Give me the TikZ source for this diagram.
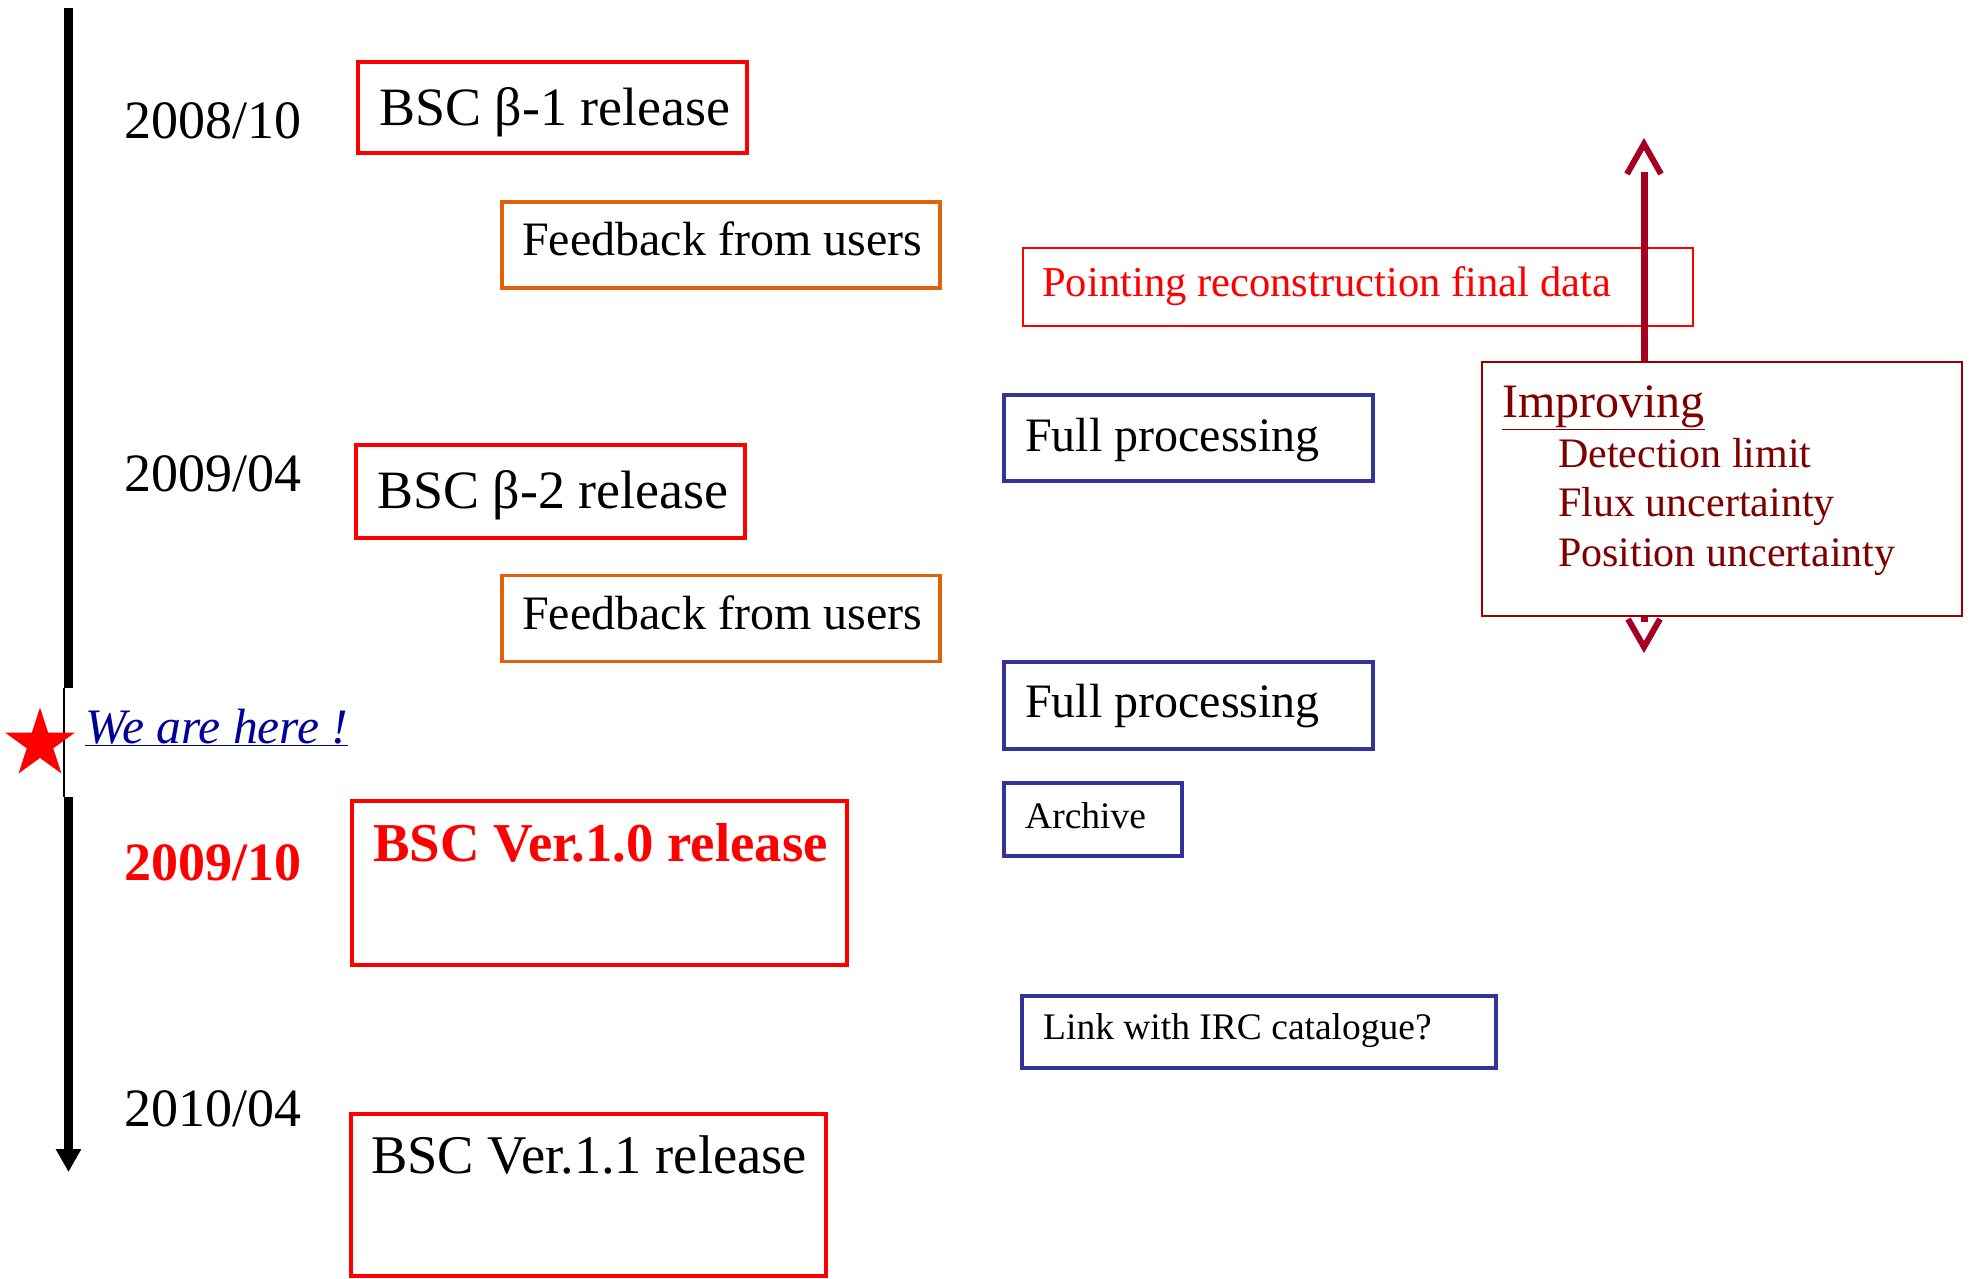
\documentclass[tikz,border=0pt]{standalone}
\usepackage{fontspec}
\setmainfont{Liberation Serif}
\usetikzlibrary{arrows.meta,shapes.geometric}
\definecolor{bscred}{HTML}{FF0000}
\definecolor{fborange}{HTML}{E0620D}
\definecolor{procblue}{HTML}{333399}
\definecolor{herenavy}{HTML}{000099}
\definecolor{impborder}{HTML}{990000}
\definecolor{imptext}{HTML}{800000}
\definecolor{imparrow}{HTML}{A50021}
\tikzset{
  boxbase/.style={rectangle, inner sep=0pt, fill=white},
  redbox/.style={boxbase, draw=bscred, line width=3.5pt},
  orbox/.style={boxbase, draw=fborange, line width=3.5pt},
  bluebox/.style={boxbase, draw=procblue, line width=3.5pt},
  thinred/.style={boxbase, draw=bscred, line width=1.5pt},
  impbox/.style={boxbase, draw=impborder, line width=2pt},
  txt/.style={inner sep=0pt, anchor=base west},
  big/.style={font=\fontsize{54}{60}\selectfont},
  mid/.style={font=\fontsize{48}{54}\selectfont},
  small/.style={font=\fontsize{42}{48}\selectfont},
  tiny/.style={font=\fontsize{37.5}{42}\selectfont},
  timeline/.style={line width=9pt, black},
  impline/.style={line width=7pt, imparrow},
  chev/.style={line width=6pt, imparrow, line join=miter},
}
\begin{document}
\begin{tikzpicture}[x=1pt,y=-1pt]
\useasboundingbox (0,0) rectangle (1971,1278);
% timeline
\coordinate (tA) at (68.5,8);
\coordinate (tB) at (68.5,688);
\coordinate (tC) at (64,688);
\coordinate (tD) at (64,797);
\coordinate (tE) at (68.5,797);
\coordinate (tF) at (68.5,1172);
\draw[timeline] (tA) -- (tB);
\draw[black, line width=1.2pt] (tC) -- (tD);
\draw[timeline, -{Triangle[width=24pt,length=23pt]}] (tE) -- (tF);
% star and label
\node[star, star points=5, star point ratio=2.618, fill=bscred, minimum size=73pt, inner sep=0pt] (star) at (40,744) {};
\node[txt, font=\fontsize{49.6}{54}\selectfont\itshape, text=herenavy] (here) at (85,743) {\underline{We are here !}};
% dates
\node[txt, big] (d1) at (124,138) {2008/10};
\node[txt, big] (d2) at (124,491) {2009/04};
\node[txt, font=\fontsize{54}{60}\selectfont\bfseries, text=bscred] (d3) at (124,880) {2009/10};
\node[txt, big] (d4) at (124,1126) {2010/04};
% release boxes
\node[redbox, minimum width=389pt, minimum height=91pt] (r1) at (552.5,107.5) {};
\node[txt, big] (r1t) at (379,125) {BSC β-1 release};
\node[redbox, minimum width=389pt, minimum height=93pt] (r2) at (550.5,491.5) {};
\node[txt, big] (r2t) at (377,508) {BSC β-2 release};
\node[redbox, minimum width=495pt, minimum height=164pt] (r3) at (599.5,883) {};
\node[txt, font=\fontsize{54.8}{60}\selectfont\bfseries, text=bscred] (r3t) at (373,861) {BSC Ver.1.0 release};
\node[redbox, minimum width=475pt, minimum height=162pt] (r4) at (588.5,1195) {};
\node[txt, font=\fontsize{54.5}{60}\selectfont] (r4t) at (371,1173) {BSC Ver.1.1 release};
% feedback boxes
\node[orbox, minimum width=438pt, minimum height=86pt] (f1) at (721,245) {};
\node[txt, mid] (f1t) at (522,255) {Feedback from users};
\node[orbox, minimum width=438pt, minimum height=86pt] (f2) at (721,618.5) {};
\node[txt, mid] (f2t) at (522,629) {Feedback from users};
% processing boxes
\node[thinred, minimum width=670pt, minimum height=78pt] (pt) at (1358,287) {};
\node[txt, font=\fontsize{42.6}{48}\selectfont, text=bscred] (ptt) at (1042,296) {Pointing reconstruction final data};
\node[bluebox, minimum width=369pt, minimum height=86pt] (p1) at (1188.5,438) {};
\node[txt, mid] (p1t) at (1025,451) {Full processing};
\node[bluebox, minimum width=369pt, minimum height=87pt] (p2) at (1188.5,705.5) {};
\node[txt, mid] (p2t) at (1025,717) {Full processing};
\node[bluebox, minimum width=178pt, minimum height=73pt] (ar) at (1093,819.5) {};
\node[txt, tiny] (art) at (1025,828) {Archive};
\node[bluebox, minimum width=474pt, minimum height=72pt] (lk) at (1259,1032) {};
\node[txt, tiny] (lkt) at (1043,1039) {Link with IRC catalogue?};
% improving arrow
\coordinate (ia1) at (1644,622);
\coordinate (ia2) at (1644,172);
\draw[impline] (ia1) -- (ia2);
\coordinate (ch1) at (1627,174);
\coordinate (ch2) at (1644,144);
\coordinate (ch3) at (1661,174);
\draw[chev] (ch1) -- (ch2) -- (ch3);
\coordinate (cb1) at (1628,619);
\coordinate (cb2) at (1644,647);
\coordinate (cb3) at (1660,619);
\draw[chev] (cb1) -- (cb2) -- (cb3);
% improving box
\node[impbox, minimum width=480pt, minimum height=254pt] (imp) at (1722,489) {};
\node[txt, mid, text=imptext] (impt) at (1502,417) {\underline{Improving}};
\node[txt, small, text=imptext] (i1) at (1558,467) {Detection limit};
\node[txt, small, text=imptext] (i2) at (1558,516) {Flux uncertainty};
\node[txt, small, text=imptext] (i3) at (1558,566) {Position uncertainty};
\end{tikzpicture}
\end{document}
